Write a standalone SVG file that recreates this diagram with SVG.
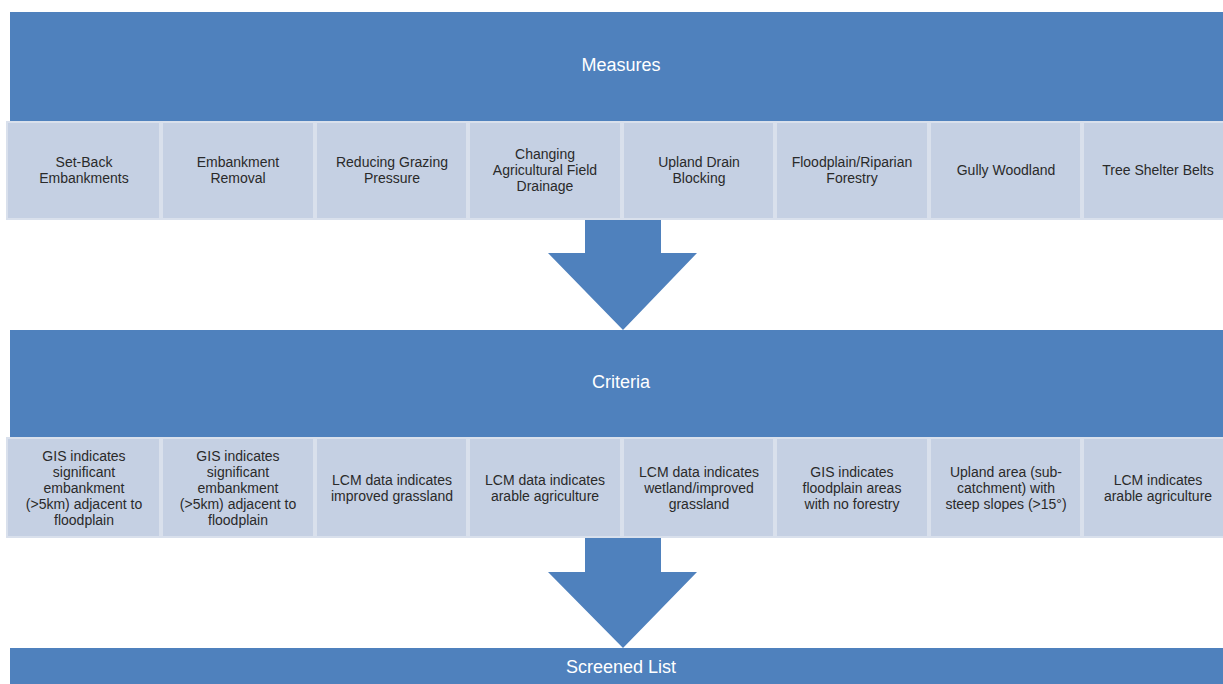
<svg xmlns="http://www.w3.org/2000/svg" width="1223" height="684" viewBox="0 0 1223 684">
<style>
.band{fill:#4f81bd}
.cell{fill:#c5d0e3;stroke:#d9e0ec;stroke-width:2}
.arrow{fill:#4f81bd}
.bt{font-family:"Liberation Sans",Arial,sans-serif;font-size:18px;fill:#ffffff;text-anchor:middle}
.ct{font-family:"Liberation Sans",Arial,sans-serif;font-size:14px;fill:#2a2a2a;text-anchor:middle}
</style>
<rect width="1223" height="684" fill="#ffffff"/>
<g id="connectors">
<path class="arrow" d="M585,219 H661 V253 H697 L623,330 L548,253 H585 Z"/>
<path class="arrow" d="M585,537 H661 V572 H697 L623,648 L548,572 H585 Z"/>
</g>
<g id="measures">
<rect class="band" x="10" y="12" width="1213" height="110"/>
<text class="bt" x="621" y="71">Measures</text>
</g>
<g id="measure-cells">
<g id="m1"><rect class="cell" x="7" y="122" width="153" height="97"/><text class="ct" x="84" y="167">Set-Back</text><text class="ct" x="84" y="183">Embankments</text></g>
<g id="m2"><rect class="cell" x="162" y="122" width="152" height="97"/><text class="ct" x="238" y="167">Embankment</text><text class="ct" x="238" y="183">Removal</text></g>
<g id="m3"><rect class="cell" x="316" y="122" width="151" height="97"/><text class="ct" x="392" y="167">Reducing Grazing</text><text class="ct" x="392" y="183">Pressure</text></g>
<g id="m4"><rect class="cell" x="469" y="122" width="152" height="97"/><text class="ct" x="545" y="159">Changing</text><text class="ct" x="545" y="175">Agricultural Field</text><text class="ct" x="545" y="191">Drainage</text></g>
<g id="m5"><rect class="cell" x="623" y="122" width="151" height="97"/><text class="ct" x="699" y="167">Upland Drain</text><text class="ct" x="699" y="183">Blocking</text></g>
<g id="m6"><rect class="cell" x="776" y="122" width="152" height="97"/><text class="ct" x="852" y="167">Floodplain/Riparian</text><text class="ct" x="852" y="183">Forestry</text></g>
<g id="m7"><rect class="cell" x="930" y="122" width="151" height="97"/><text class="ct" x="1006" y="175">Gully Woodland</text></g>
<g id="m8"><rect class="cell" x="1083" y="122" width="150" height="97"/><text class="ct" x="1158" y="175">Tree Shelter Belts</text></g>
</g>
<g id="criteria">
<rect class="band" x="10" y="330" width="1213" height="108"/>
<text class="bt" x="621" y="388">Criteria</text>
</g>
<g id="criteria-cells">
<g id="c1"><rect class="cell" x="7" y="438" width="153" height="99"/><text class="ct" x="84" y="461">GIS indicates</text><text class="ct" x="84" y="477">significant</text><text class="ct" x="84" y="493">embankment</text><text class="ct" x="84" y="509">(&gt;5km) adjacent to</text><text class="ct" x="84" y="525">floodplain</text></g>
<g id="c2"><rect class="cell" x="162" y="438" width="152" height="99"/><text class="ct" x="238" y="461">GIS indicates</text><text class="ct" x="238" y="477">significant</text><text class="ct" x="238" y="493">embankment</text><text class="ct" x="238" y="509">(&gt;5km) adjacent to</text><text class="ct" x="238" y="525">floodplain</text></g>
<g id="c3"><rect class="cell" x="316" y="438" width="151" height="99"/><text class="ct" x="392" y="485">LCM data indicates</text><text class="ct" x="392" y="501">improved grassland</text></g>
<g id="c4"><rect class="cell" x="469" y="438" width="152" height="99"/><text class="ct" x="545" y="485">LCM data indicates</text><text class="ct" x="545" y="501">arable agriculture</text></g>
<g id="c5"><rect class="cell" x="623" y="438" width="151" height="99"/><text class="ct" x="699" y="477">LCM data indicates</text><text class="ct" x="699" y="493">wetland/improved</text><text class="ct" x="699" y="509">grassland</text></g>
<g id="c6"><rect class="cell" x="776" y="438" width="152" height="99"/><text class="ct" x="852" y="477">GIS indicates</text><text class="ct" x="852" y="493">floodplain areas</text><text class="ct" x="852" y="509">with no forestry</text></g>
<g id="c7"><rect class="cell" x="930" y="438" width="151" height="99"/><text class="ct" x="1006" y="477">Upland area (sub-</text><text class="ct" x="1006" y="493">catchment) with</text><text class="ct" x="1006" y="509">steep slopes (&gt;15°)</text></g>
<g id="c8"><rect class="cell" x="1083" y="438" width="150" height="99"/><text class="ct" x="1158" y="485">LCM indicates</text><text class="ct" x="1158" y="501">arable agriculture</text></g>
</g>
<g id="screened">
<rect class="band" x="10" y="648" width="1213" height="40"/>
<text class="bt" x="621" y="673">Screened List</text>
</g>
</svg>
